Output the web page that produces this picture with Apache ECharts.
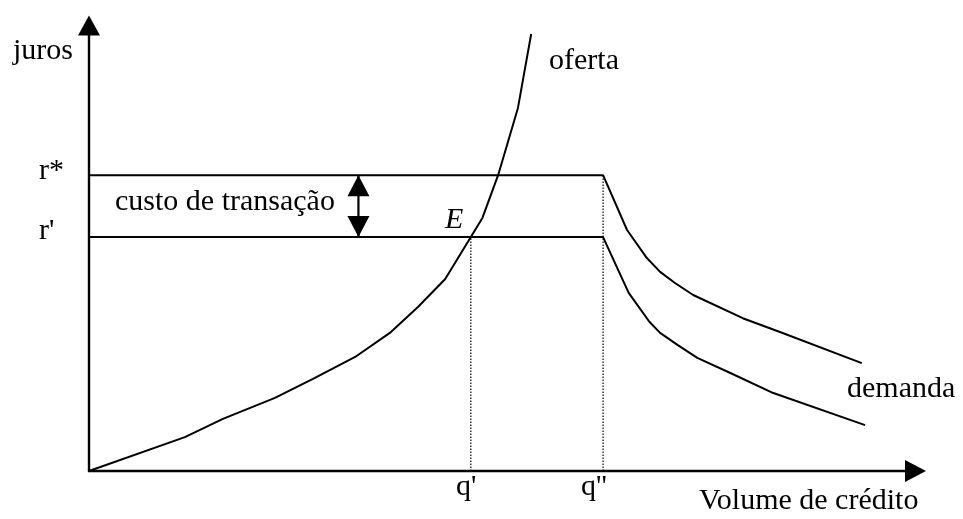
<!DOCTYPE html>
<html>
<head>
<meta charset="utf-8">
<script src="https://cdn.jsdelivr.net/npm/echarts@6/dist/echarts.min.js"></script>
<style>html,body{margin:0;padding:0;background:#fff;}#c{width:963px;height:519px;}</style>
</head>
<body>
<div id="c"></div>
<script>
// Key levels
const rStar = 6.64;   // r*
const rPrime = 5.25;  // r'
const qPrime = 4.62;  // q'
const qDouble = 6.22; // q''
const arrowX = 3.26;  // transaction-cost arrow position

// Supply curve (oferta)
const ofertaX = [0, 1.16, 1.62, 2.25, 2.71, 3.22, 3.64, 3.98, 4.31, 4.76, 4.95, 5.19, 5.35];
const ofertaY = [0, 0.76, 1.17, 1.64, 2.07, 2.56, 3.10, 3.68, 4.31, 5.68, 6.64, 8.15, 9.81];

// Upper demand curve (at r*)
const demUpX = [0, 6.22, 6.51, 6.75, 6.91, 7.09, 7.31, 7.91, 8.36, 9.35];
const demUpY = [6.64, 6.64, 5.41, 4.78, 4.47, 4.22, 3.95, 3.43, 3.12, 2.42];

// Lower demand curve (at r')
const demLoX = [0, 6.22, 6.53, 6.78, 6.91, 7.12, 7.36, 7.76, 8.28, 9.39];
const demLoY = [5.25, 5.25, 4.00, 3.35, 3.10, 2.83, 2.54, 2.20, 1.75, 1.03];

// Texts
const yTitle = 'juros';
const xTitle = 'Volume de crédito';
const labelRStar = 'r*';
const labelRPrime = "r'";
const labelQPrime = "q'";
const labelQDouble = "q''";
const labelCusto = 'custo de transação';
const labelE = 'E';
const labelOferta = 'oferta';
const labelDemanda = 'demanda';

const zip = (xs, ys) => xs.map((x, i) => [x, ys[i]]);
const FONT = "'Liberation Serif', 'Times New Roman', serif";
const FS = 30;

const chart = echarts.init(document.getElementById('c'), null, {renderer: 'canvas'});

function txt(text, x, y, extra) {
  return Object.assign({
    type: 'text', x: x, y: y, silent: true,
    style: Object.assign({text: text, fill: '#000', font: FS + 'px ' + FONT, verticalAlign: 'middle', align: 'left'}, extra || {})
  });
}

const curveStyle = {color: '#000', width: 2};

const option = {
  backgroundColor: '#fff',
  animation: false,
  grid: {left: 89, right: 47.5, top: 25.5, bottom: 48},
  xAxis: {
    type: 'value', min: 0, max: 10,
    splitLine: {show: false}, axisTick: {show: false}, axisLabel: {show: false},
    axisLine: {show: true, lineStyle: {color: '#000', width: 2.4}, symbol: ['none', 'triangle'], symbolSize: [22, 21]}
  },
  yAxis: {
    type: 'value', min: 0, max: 10,
    splitLine: {show: false}, axisTick: {show: false}, axisLabel: {show: false},
    axisLine: {show: true, lineStyle: {color: '#000', width: 2.4}, symbol: ['none', 'triangle'], symbolSize: [22, 20]}
  },
  series: [
    {type: 'line', data: zip(ofertaX, ofertaY), showSymbol: false, lineStyle: curveStyle, z: 3},
    {type: 'line', data: zip(demUpX, demUpY), showSymbol: false, lineStyle: curveStyle, z: 3},
    {type: 'line', data: zip(demLoX, demLoY), showSymbol: false, lineStyle: curveStyle, z: 3},
    {type: 'line', data: [[qPrime, 0], [qPrime, rPrime]], showSymbol: false, lineStyle: {color: '#000', width: 1.2, type: [1.5, 1.5]}, z: 2},
    {type: 'line', data: [[qDouble, 0], [qDouble, rStar]], showSymbol: false, lineStyle: {color: '#000', width: 1.2, type: [1.5, 1.5]}, z: 2},
    {type: 'line', data: [
        {value: [arrowX, rStar], symbol: 'triangle', symbolSize: [22, 21], symbolOffset: [0, '50%']},
        {value: [arrowX, rPrime], symbol: 'triangle', symbolSize: [22, 21], symbolRotate: 180, symbolOffset: [0, '-50%']}
      ],
      showSymbol: true, lineStyle: {color: '#000', width: 2.2}, itemStyle: {color: '#000'}, z: 4}
  ],
  graphic: [
    txt(yTitle, 13, 51),
    txt(labelRStar, 39, 171),
    txt(labelRPrime, 39, 231),
    txt(labelCusto, 115, 202),
    txt(labelE, 445, 220, {font: 'italic ' + FS + 'px ' + FONT}),
    txt(labelOferta, 549, 61),
    txt(labelDemanda, 847, 389),
    txt(labelQPrime, 456, 487),
    txt(labelQDouble, 581, 487),
    txt(xTitle, 699, 501)
  ]
};
chart.setOption(option);
</script>
</body>
</html>
